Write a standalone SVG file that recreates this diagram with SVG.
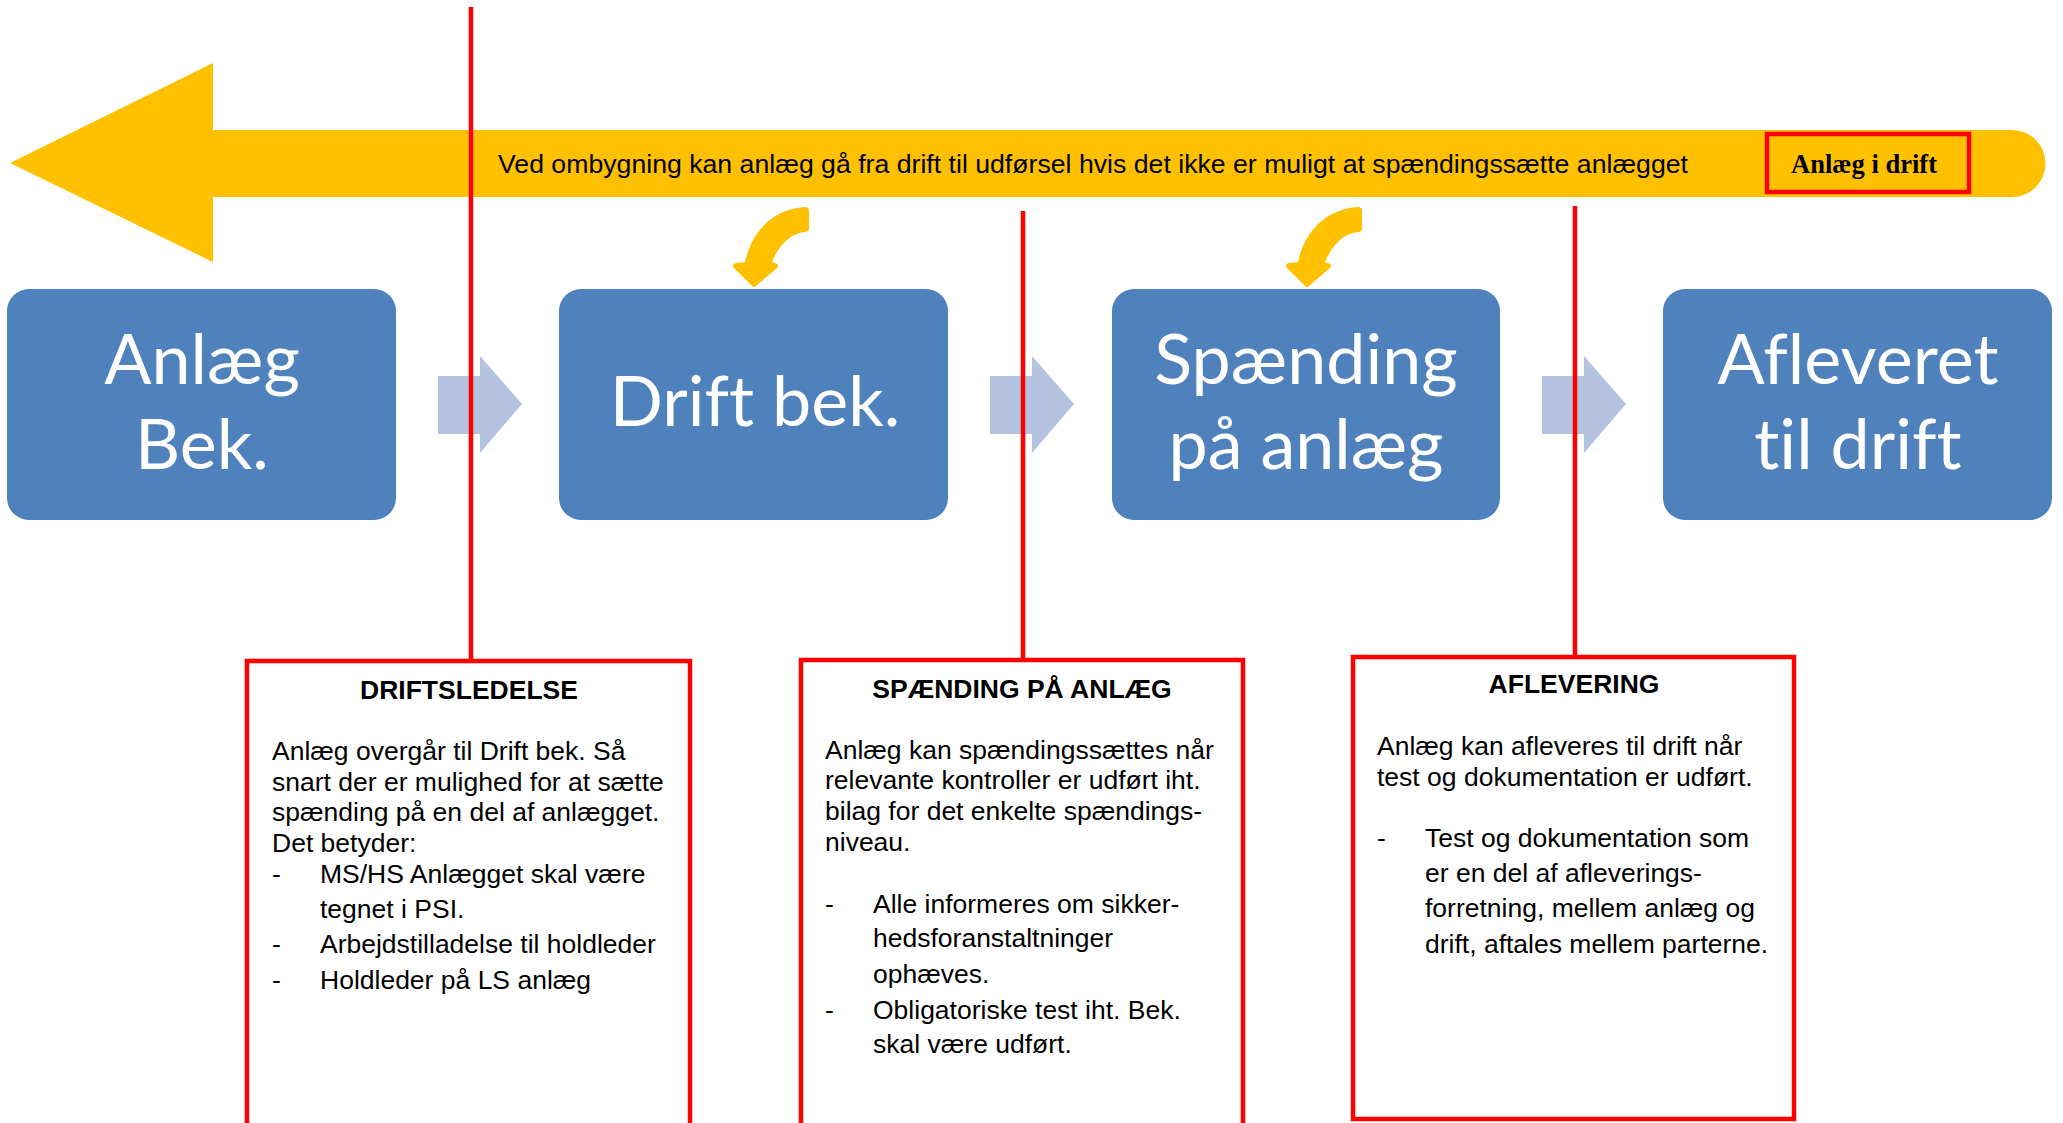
<svg xmlns="http://www.w3.org/2000/svg" width="2063" height="1123" viewBox="0 0 2063 1123">
<defs>
<style>
.step{fill:#4F81BD;}
.steptxt{font-family:Lato,"Open Sans","Liberation Sans",sans-serif;font-size:70px;fill:#FFFFFF;text-anchor:middle;font-variant-ligatures:none;font-feature-settings:"liga" 0,"clig" 0,"dlig" 0;}
.chev{fill:#B3C3DF;}
.curl{fill:#FFC000;}
.redline{stroke:#FF0000;stroke-width:4.5;fill:none;}
.callout{fill:#FFFFFF;stroke:#FF0000;stroke-width:4.5;}
.head{font-family:"Liberation Sans",Arial,sans-serif;font-size:26.5px;font-weight:bold;fill:#000;text-anchor:middle;}
.body{font-family:"Liberation Sans",Arial,sans-serif;font-size:26.5px;fill:#000;}
</style>
<polygon id="chevShape" points="438,376 480,376 480,356 522,404 480,453 480,434 438,434"/>
<path id="curlShape" d="M 805 207 Q 809 207 809 211 L 809 228 Q 809 232 805 232 C 791 233 779 245 772 262 L 775 263 Q 780 264 777 268 L 756 286 Q 754 288 752 286 L 734 268 Q 731 264 736 263 L 745 262 C 752 230 774 209 805 207 Z"/>
</defs>
<rect width="2063" height="1123" fill="#FFFFFF"/>

<g id="banner">
<path d="M 10 163 L 213 63 L 213 130 L 2012 130 A 33.5 33.5 0 0 1 2012 197 L 213 197 L 213 262 Z" fill="#FFC000"/>
<text x="498" y="173" font-family="Liberation Sans, Arial, sans-serif" font-size="26.5" fill="#000" textLength="1190" lengthAdjust="spacingAndGlyphs">Ved ombygning kan anlæg gå fra drift til udførsel hvis det ikke er muligt at spændingssætte anlægget</text>
</g>

<g id="anlaeg-i-drift">
<rect x="1767" y="134" width="202" height="58" fill="none" stroke="#FF0000" stroke-width="4.5"/>
<text x="1791" y="173" font-family="Liberation Serif, Times New Roman, serif" font-size="28" font-weight="bold" fill="#000" textLength="146" lengthAdjust="spacingAndGlyphs">Anlæg i drift</text>
</g>

<g id="node-anlaeg-bek">
<rect class="step" x="7" y="289" width="389" height="231" rx="22" ry="22"/>
<text class="steptxt" x="202" y="384">Anlæg</text>
<text class="steptxt" x="202" y="469">Bek.</text>
</g>
<g id="node-drift-bek">
<rect class="step" x="559" y="289" width="389" height="231" rx="22" ry="22"/>
<text class="steptxt" x="755" y="426">Drift bek.</text>
</g>
<g id="node-spaending">
<rect class="step" x="1112" y="289" width="388" height="231" rx="22" ry="22"/>
<text class="steptxt" x="1306" y="384">Spænding</text>
<text class="steptxt" x="1306" y="469">på anlæg</text>
</g>
<g id="node-afleveret">
<rect class="step" x="1663" y="289" width="389" height="231" rx="22" ry="22"/>
<text class="steptxt" x="1858" y="384">Afleveret</text>
<text class="steptxt" x="1858" y="469">til drift</text>
</g>

<g id="callout-driftsledelse">
<rect class="callout" x="247" y="661" width="443" height="480"/>
<text class="head" x="469" y="699">DRIFTSLEDELSE</text>
<text class="body">
<tspan x="272" y="760">Anlæg overgår til Drift bek. Så</tspan>
<tspan x="272" y="791">snart der er mulighed for at sætte</tspan>
<tspan x="272" y="821">spænding på en del af anlægget.</tspan>
<tspan x="272" y="852">Det betyder:</tspan>
</text>
<text class="body">
<tspan x="272" y="883">-</tspan><tspan x="320" y="883">MS/HS Anlægget skal være</tspan>
<tspan x="320" y="918">tegnet i PSI.</tspan>
<tspan x="272" y="953">-</tspan><tspan x="320" y="953">Arbejdstilladelse til holdleder</tspan>
<tspan x="272" y="989">-</tspan><tspan x="320" y="989">Holdleder på LS anlæg</tspan>
</text>
</g>

<g id="callout-spaending">
<rect class="callout" x="801" y="660" width="442" height="481"/>
<text class="head" x="1022" y="698">SPÆNDING PÅ ANLÆG</text>
<text class="body">
<tspan x="825" y="759">Anlæg kan spændingssættes når</tspan>
<tspan x="825" y="789">relevante kontroller er udført iht.</tspan>
<tspan x="825" y="820">bilag for det enkelte spændings-</tspan>
<tspan x="825" y="851">niveau.</tspan>
</text>
<text class="body">
<tspan x="825" y="913">-</tspan><tspan x="873" y="913">Alle informeres om sikker-</tspan>
<tspan x="873" y="947">hedsforanstaltninger</tspan>
<tspan x="873" y="983">ophæves.</tspan>
<tspan x="825" y="1019">-</tspan><tspan x="873" y="1019">Obligatoriske test iht. Bek.</tspan>
<tspan x="873" y="1053">skal være udført.</tspan>
</text>
</g>

<g id="callout-aflevering">
<rect class="callout" x="1353" y="657" width="441" height="462"/>
<text class="head" x="1574" y="693">AFLEVERING</text>
<text class="body">
<tspan x="1377" y="755">Anlæg kan afleveres til drift når</tspan>
<tspan x="1377" y="786">test og dokumentation er udført.</tspan>
</text>
<text class="body">
<tspan x="1377" y="847">-</tspan><tspan x="1425" y="847">Test og dokumentation som</tspan>
<tspan x="1425" y="882">er en del af afleverings-</tspan>
<tspan x="1425" y="917">forretning, mellem anlæg og</tspan>
<tspan x="1425" y="953">drift, aftales mellem parterne.</tspan>
</text>
</g>

<g id="connectors">
<use href="#chevShape" class="chev"/>
<use href="#chevShape" class="chev" transform="translate(552,0)"/>
<use href="#chevShape" class="chev" transform="translate(1104,0)"/>
<use href="#curlShape" class="curl"/>
<use href="#curlShape" class="curl" transform="translate(553,0)"/>
<line class="redline" x1="471" y1="7" x2="471" y2="661"/>
<line class="redline" x1="1023" y1="211" x2="1023" y2="660"/>
<line class="redline" x1="1575" y1="206" x2="1575" y2="657"/>
</g>
</svg>
